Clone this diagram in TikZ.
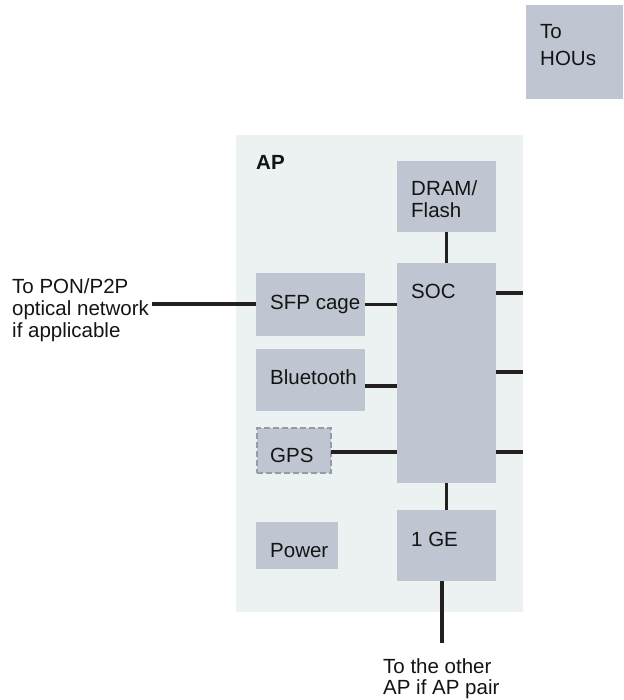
\documentclass[tikz,border=0pt]{standalone}
\usepackage{fontspec}
\setmainfont{Liberation Sans}
\definecolor{boxc}{RGB}{191,198,209}
\definecolor{panelc}{RGB}{236,241,242}
\definecolor{wirec}{RGB}{35,31,32}
\definecolor{txtc}{RGB}{20,20,20}
\definecolor{dashc}{RGB}{150,156,166}
\begin{document}
\begin{tikzpicture}[x=1pt,y=-1pt,
  box/.style={fill=boxc, inner sep=0pt, outer sep=0pt, anchor=north west},
  wire/.style={draw=wirec, line width=3.3pt},
  txt/.style={inner sep=0pt, anchor=base west, font=\fontsize{20.5}{22}\selectfont, text=txtc}]
\useasboundingbox (0,0) rectangle (623,700);
\fill[white] (0,0) rectangle (623,700);
% panel
\node[box, fill=panelc, minimum width=287pt, minimum height=477pt] (panel) at (236,135) {};
% boxes
\node[box, minimum width=97pt, minimum height=94pt] (hou) at (526,5) {};
\node[box, minimum width=99pt, minimum height=71pt] (dram) at (397,161) {};
\node[box, minimum width=99pt, minimum height=220pt] (soc) at (397,263) {};
\node[box, minimum width=109pt, minimum height=63pt] (sfp) at (256,273) {};
\node[box, minimum width=109pt, minimum height=62pt] (bt) at (256,349) {};
\node[box, draw=dashc, line width=2pt, dash pattern=on 6pt off 3pt, minimum width=74pt, minimum height=45pt] (gps) at (257,428) {};
\node[box, minimum width=82pt, minimum height=47pt] (pwr) at (256,522) {};
\node[box, minimum width=99pt, minimum height=71pt] (ge) at (397,510) {};
% free ends
\coordinate (ponend) at (152,304);
\coordinate (apend) at (442,643);
\coordinate (r1) at (523,293);
\coordinate (r2) at (523,372);
\coordinate (r3) at (523,452);
% wires
\draw[wire] (dram.south) -- (dram.south |- soc.north);
\draw[wire] (ponend) -- (ponend -| sfp.west);
\draw[wire] (sfp.east) -- (sfp.east -| soc.west);
\draw[wire] ([yshift=-6pt]bt.east) -- ([yshift=-6pt]bt.east -| soc.west);
\draw[wire] ([yshift=-1.5pt]gps.east) -- ([yshift=-1.5pt]gps.east -| soc.west);
\draw[wire] (soc.south) -- (soc.south |- ge.north);
\draw[wire] ([xshift=-4.5pt]ge.south) -- (apend);
\draw[wire] (r1 -| soc.east) -- (r1);
\draw[wire] (r2 -| soc.east) -- (r2);
\draw[wire] (r3 -| soc.east) -- (r3);
% texts
\node[txt] (hout1) at (540,39) {To};
\node[txt] (hout2) at (540,66) {HOUs};
\node[txt, font=\bfseries\fontsize{20.5}{22}\selectfont] (aplbl) at (256,170) {AP};
\node[txt] (dramt1) at (411,196) {DRAM/};
\node[txt] (dramt2) at (411,218) {Flash};
\node[txt] (soct) at (411,298) {SOC};
\node[txt] (sfpt) at (270,309) {SFP cage};
\node[txt] (btt) at (270,384) {Bluetooth};
\node[txt] (gpst) at (270,462) {GPS};
\node[txt] (pwrt) at (270,557) {Power};
\node[txt] (get) at (411,546) {1 GE};
\node[txt] (pont1) at (12,293) {To PON/P2P};
\node[txt] (pont2) at (12,315) {optical network};
\node[txt] (pont3) at (12,337) {if applicable};
\node[txt] (apt1) at (383,673) {To the other};
\node[txt] (apt2) at (383,694) {AP if AP pair};
\end{tikzpicture}
\end{document}
